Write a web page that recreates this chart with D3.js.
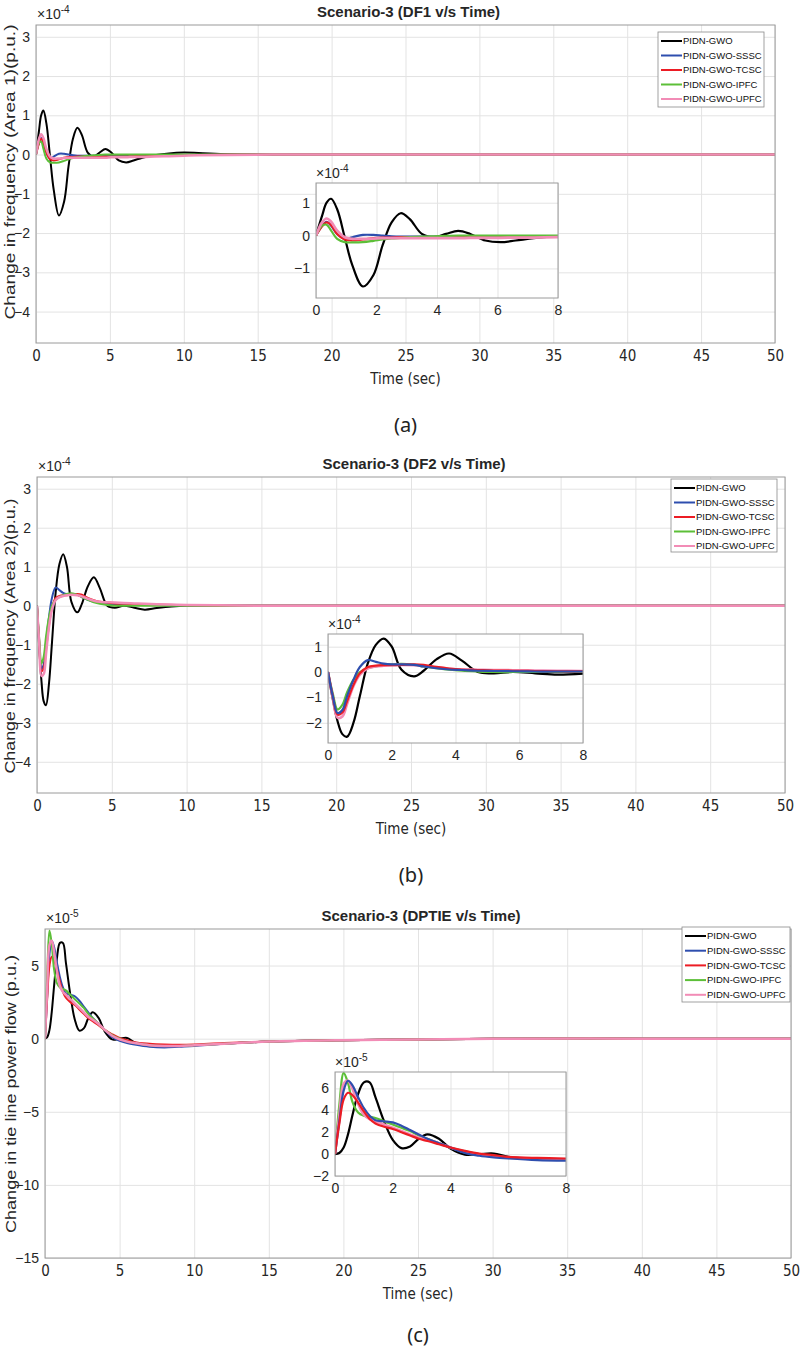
<!DOCTYPE html>
<html>
<head>
<meta charset="utf-8">
<script src="https://cdn.jsdelivr.net/npm/d3@7"></script>
<style>
  body { margin: 0; background: #fff; }
  svg { display: block; }
</style>
</head>
<body>
<div id="chart"></div>
<script>
// series names / colours (legend order)
names = ["PIDN-GWO", "PIDN-GWO-SSSC", "PIDN-GWO-TCSC", "PIDN-GWO-IPFC", "PIDN-GWO-UPFC"]
colors = ["#000000", "#2e4eae", "#ec1c24", "#5cbf38", "#f28cb6"]

xTicks = [0, 5, 10, 15, 20, 25, 30, 35, 40, 45, 50]
insetXTicks = [0, 2, 4, 6, 8]

// (a) DF1, x1e-4
tA = [0, 0.2, 0.35, 0.5, 0.7, 0.95, 1.2, 1.55, 1.9, 2.2, 2.5, 2.8, 3.1, 3.5, 3.9, 4.3, 4.7, 5.1, 5.6, 6.1, 6.6, 7.2, 8, 9, 10, 11, 13, 16, 20, 30, 40, 50]
a_gwo  = [0, 0.6, 1.0, 1.12, 0.8, -0.05, -0.9, -1.55, -1.2, -0.3, 0.4, 0.68, 0.5, 0.05, -0.05, 0.05, 0.14, 0.05, -0.15, -0.2, -0.15, -0.08, -0.02, 0.03, 0.05, 0.04, 0.01, 0, 0, 0, 0, 0]
a_sssc = [0, 0.3, 0.42, 0.3, 0.05, -0.1, -0.05, 0.02, 0.02, 0, -0.02, -0.03, -0.03, -0.03, -0.03, -0.03, -0.03, -0.03, -0.03, -0.03, -0.03, -0.03, -0.03, -0.02, -0.01, -0.01, 0, 0, 0, 0, 0, 0]
a_tcsc = [0, 0.28, 0.4, 0.32, 0.05, -0.12, -0.15, -0.12, -0.08, -0.06, -0.06, -0.05, -0.05, -0.05, -0.05, -0.05, -0.05, -0.05, -0.05, -0.05, -0.04, -0.04, -0.03, -0.02, -0.01, -0.01, 0, 0, 0, 0, 0, 0]
a_ipfc = [0, 0.3, 0.33, 0.15, -0.1, -0.2, -0.21, -0.2, -0.16, -0.12, -0.09, -0.07, -0.05, -0.03, -0.02, -0.01, 0, 0, 0, 0, 0, 0, 0, 0, 0, 0, 0, 0, 0, 0, 0, 0]
a_upfc = [0, 0.4, 0.52, 0.42, 0.15, -0.05, -0.1, -0.1, -0.09, -0.08, -0.08, -0.08, -0.08, -0.08, -0.08, -0.08, -0.08, -0.07, -0.07, -0.07, -0.06, -0.06, -0.05, -0.04, -0.03, -0.02, -0.01, 0, 0, 0, 0, 0]

// (b) DF2, x1e-4
tB = [0, 0.15, 0.3, 0.45, 0.6, 0.8, 1.0, 1.25, 1.5, 1.75, 2.0, 2.3, 2.7, 3.0, 3.4, 3.8, 4.2, 4.7, 5.2, 5.8, 6.5, 7.2, 8, 9, 10, 12, 15, 20, 30, 40, 50]
b_gwo  = [0, -1.07, -1.94, -2.45, -2.55, -2.0, -0.95, 0.35, 1.07, 1.32, 1.0, 0.1, -0.17, 0.05, 0.5, 0.73, 0.45, 0.0, -0.05, 0, -0.05, -0.1, -0.06, -0.02, 0, 0, 0, 0, 0, 0, 0]
b_sssc = [0, -0.95, -1.62, -1.5, -0.95, -0.3, 0.2, 0.47, 0.4, 0.33, 0.3, 0.3, 0.28, 0.22, 0.15, 0.1, 0.08, 0.05, 0.04, 0.03, 0.02, 0.02, 0.02, 0.01, 0.01, 0, 0, 0, 0, 0, 0]
b_tcsc = [0, -0.95, -1.68, -1.6, -1.15, -0.5, -0.05, 0.2, 0.25, 0.27, 0.27, 0.28, 0.3, 0.28, 0.2, 0.14, 0.1, 0.08, 0.06, 0.05, 0.04, 0.03, 0.03, 0.02, 0.01, 0, 0, 0, 0, 0, 0]
b_ipfc = [0, -0.85, -1.48, -1.3, -0.8, -0.3, 0, 0.15, 0.22, 0.27, 0.3, 0.32, 0.28, 0.22, 0.15, 0.09, 0.05, 0.02, 0, 0, 0, 0, 0, 0, 0, 0, 0, 0, 0, 0, 0]
b_upfc = [0, -1.0, -1.8, -1.75, -1.25, -0.55, -0.1, 0.15, 0.22, 0.25, 0.27, 0.28, 0.27, 0.24, 0.18, 0.13, 0.1, 0.09, 0.08, 0.07, 0.06, 0.05, 0.04, 0.03, 0.02, 0.01, 0, 0, 0, 0, 0]

// (c) DPTIE, x1e-5
tC = [0, 0.15, 0.3, 0.45, 0.6, 0.8, 1.0, 1.2, 1.4, 1.7, 2.0, 2.3, 2.6, 2.9, 3.2, 3.6, 4.0, 4.5, 5.0, 5.5, 6.0, 7.0, 8.0, 9.0, 10, 12, 15, 20, 25, 30, 40, 50]
c_gwo  = [0, 0.1, 0.6, 1.8, 3.5, 5.5, 6.55, 6.55, 5.2, 3.0, 1.3, 0.55, 0.7, 1.4, 1.8, 1.4, 0.5, -0.05, 0, 0.05, -0.25, -0.45, -0.5, -0.5, -0.45, -0.35, -0.2, -0.1, -0.05, 0, 0, 0]
c_sssc = [0, 3.0, 5.8, 6.7, 6.3, 5.2, 4.2, 3.5, 3.1, 3.0, 2.9, 2.6, 2.2, 1.8, 1.4, 1.0, 0.6, 0.1, -0.15, -0.3, -0.4, -0.55, -0.6, -0.55, -0.5, -0.35, -0.2, -0.1, -0.05, 0, 0, 0]
c_tcsc = [0, 2.8, 5.0, 5.6, 5.4, 4.7, 3.9, 3.2, 2.8, 2.5, 2.3, 2.0, 1.7, 1.4, 1.2, 0.9, 0.6, 0.3, 0.05, -0.1, -0.25, -0.35, -0.4, -0.42, -0.4, -0.3, -0.2, -0.1, -0.05, 0, 0, 0]
c_ipfc = [0, 4.5, 7.4, 6.5, 4.8, 3.8, 3.5, 3.4, 3.3, 3.0, 2.7, 2.4, 2.1, 1.7, 1.4, 1.0, 0.6, 0.25, 0, -0.2, -0.3, -0.45, -0.5, -0.5, -0.45, -0.35, -0.2, -0.1, -0.05, 0, 0, 0]
c_upfc = [0, 3.5, 6.4, 6.7, 6.0, 4.6, 3.6, 3.2, 3.0, 2.7, 2.4, 2.1, 1.8, 1.5, 1.3, 1.0, 0.6, 0.2, -0.05, -0.2, -0.3, -0.45, -0.5, -0.5, -0.45, -0.35, -0.2, -0.1, -0.05, 0, 0, 0]

gridColor = "#e3e3e3"
frameColor = "#9a9a9a"
textColor = "#262626"
narrow = "'Liberation Sans Narrow', 'DejaVu Sans Condensed', 'Liberation Sans', sans-serif"

var svg = d3.select("#chart").append("svg")
    .attr("width", 800).attr("height", 1349)
    .style("font-family", "'Liberation Sans', Arial, sans-serif")

function expLabel(g, x0, y0, exp, size) {
    var t = g.append("text").attr("x", x0).attr("y", y0)
        .attr("font-size", size).attr("fill", textColor)
    t.append("tspan").text("\u00d710")
    t.append("tspan").attr("dy", -6).attr("font-size", size * 0.72).text(exp)
}

function drawBox(g, x, y, xt, yt, id, narrowX) {
    var r = x.range(), d = y.range()
    g.append("rect").attr("x", r[0]).attr("y", d[1])
        .attr("width", r[1] - r[0]).attr("height", d[0] - d[1]).attr("fill", "#fff")
    // grid through the axis ticks
    var gx = g.append("g").attr("transform", `translate(0,${d[0]})`)
        .call(d3.axisBottom(x).tickValues(xt).tickSize(-(d[0] - d[1])).tickPadding(7).tickFormat(d3.format("d")))
    var gy = g.append("g").attr("transform", `translate(${r[0]},0)`)
        .call(d3.axisLeft(y).tickValues(yt).tickSize(-(r[1] - r[0])).tickPadding(6).tickFormat(d3.format("d")))
    ;[gx, gy].forEach(a => {
        a.select(".domain").remove()
        a.selectAll("line").attr("stroke", gridColor)
        a.selectAll("text").attr("fill", textColor).attr("font-size", 14)
    })
    gx.selectAll("text").attr("font-family", narrowX ? narrow : null).attr("font-size", narrowX ? 15 : 14)
    gy.selectAll("text").attr("font-family", "'Liberation Sans', Arial, sans-serif")
    svg.append("clipPath").attr("id", id).append("rect")
        .attr("x", r[0]).attr("y", d[1]).attr("width", r[1] - r[0]).attr("height", d[0] - d[1])
}

function drawLines(g, x, y, t, series, order, id, w, tmax) {
    var line = d3.line()
        .x(d => x(d[0]))
        .y(d => y(d[1]))
        .curve(d3.curveCatmullRom.alpha(0.5))
    var lg = g.append("g").attr("clip-path", `url(#${id})`)
    order.forEach(i => {
        var pts = d3.zip(t, series[i]).filter(d => d[0] <= tmax)
        lg.append("path")
            .attr("fill", "none")
            .attr("stroke", colors[i])
            .attr("stroke-width", i == 4 ? w + 0.5 : w)
            .attr("stroke-linejoin", "round")
            .attr("d", line(pts))
    })
}

function frame(g, x, y) {
    var r = x.range(), d = y.range()
    g.append("rect").attr("x", r[0]).attr("y", d[1])
        .attr("width", r[1] - r[0]).attr("height", d[0] - d[1])
        .attr("fill", "none").attr("stroke", frameColor).attr("stroke-width", 1)
}

function drawPanel(c) {
    var g = svg.append("g")
    var x = d3.scaleLinear().domain([0, 50]).range([c.left, c.right])
    var y = d3.scaleLinear().domain(c.yDom).range([c.bottom, c.top])
    drawBox(g, x, y, xTicks, c.yTicks, "clip" + c.id, true)
    drawLines(g, x, y, c.t, c.series, [0, 1, 2, 3, 4], "clip" + c.id, 2, 50)
    frame(g, x, y)

    var cx = (c.left + c.right) / 2
    g.append("text").attr("x", cx + 3).attr("y", c.top - 8)
        .attr("text-anchor", "middle").attr("font-weight", "bold")
        .attr("font-size", 15).attr("fill", textColor).text(c.title)
    expLabel(g, c.left + 1, c.top - 6, c.exp, 14)
    g.append("text").attr("x", cx).attr("y", c.bottom + 41)
        .attr("text-anchor", "middle").attr("font-family", narrow)
        .attr("font-size", 15).attr("fill", textColor).text("Time (sec)")
    g.append("text")
        .attr("transform", `translate(${c.yLabX},${c.yLabMid}) rotate(-90)`)
        .attr("text-anchor", "middle").attr("font-size", 14).attr("fill", textColor)
        .attr("textLength", c.yLabLen).attr("lengthAdjust", "spacingAndGlyphs")
        .text(c.ylabel)
    g.append("text").attr("x", cx).attr("y", c.bottom + c.tagDy)
        .attr("text-anchor", "middle").attr("font-family", "'Noto Sans', 'Open Sans', sans-serif")
        .attr("font-size", 20).attr("fill", "#222").text(c.tag)

    // inset
    var n = c.inset
    var ix = d3.scaleLinear().domain([0, 8]).range([n.left, n.right])
    var iy = d3.scaleLinear().domain(n.yDom).range([n.bottom, n.top])
    var ig = g.append("g")
    drawBox(ig, ix, iy, insetXTicks, n.yTicks, "iclip" + c.id, false)
    drawLines(ig, ix, iy, c.t, c.series, n.order, "iclip" + c.id, 2.2, 8)
    frame(ig, ix, iy)
    expLabel(ig, n.left, n.top - 5, c.exp, 14)

    // legend
    var L = c.legend
    var lg = g.append("g")
    lg.append("rect").attr("x", L.x).attr("y", L.y).attr("width", L.w).attr("height", L.h)
        .attr("fill", "#fff").attr("stroke", "#8a8a8a").attr("stroke-width", 0.8)
    names.forEach((nm, i) => {
        var yy = L.y + 9 + i * L.step
        lg.append("line").attr("x1", L.x + 3).attr("x2", L.x + 24).attr("y1", yy).attr("y2", yy)
            .attr("stroke", colors[i]).attr("stroke-width", 2)
        lg.append("text").attr("x", L.x + 25).attr("y", yy + 3.3)
            .attr("font-size", 9.5).attr("fill", "#111").text(nm)
    })
}

drawPanel({
    id: "a", t: tA, series: [a_gwo, a_sssc, a_tcsc, a_ipfc, a_upfc],
    left: 36, right: 775, top: 25, bottom: 343, yDom: [-4.8, 3.3], yTicks: [-4, -3, -2, -1, 0, 1, 2, 3],
    title: "Scenario-3 (DF1 v/s Time)", exp: "-4",
    ylabel: "Change in frequency (Area 1)(p.u.)", yLabX: 15, yLabMid: 172, yLabLen: 295, tag: "(a)", tagDy: 89,
    inset: { left: 316, right: 558, top: 183, bottom: 298, yDom: [-1.9, 1.6], yTicks: [-1, 0, 1], order: [0, 1, 2, 3, 4] },
    legend: { x: 658, y: 32, w: 106, h: 75, step: 14.5 }
})

drawPanel({
    id: "b", t: tB, series: [b_gwo, b_sssc, b_tcsc, b_ipfc, b_upfc],
    left: 37, right: 785, top: 477, bottom: 793, yDom: [-4.8, 3.3], yTicks: [-4, -3, -2, -1, 0, 1, 2, 3],
    title: "Scenario-3 (DF2 v/s Time)", exp: "-4",
    ylabel: "Change in frequency (Area 2)(p.u.)", yLabX: 15, yLabMid: 636, yLabLen: 275, tag: "(b)", tagDy: 89,
    inset: { left: 328, right: 583, top: 634, bottom: 743, yDom: [-2.8, 1.5], yTicks: [-2, -1, 0, 1], order: [0, 3, 4, 2, 1] },
    legend: { x: 671, y: 479, w: 106, h: 73, step: 14.5 }
})

drawPanel({
    id: "c", t: tC, series: [c_gwo, c_sssc, c_tcsc, c_ipfc, c_upfc],
    left: 45, right: 791, top: 929, bottom: 1258, yDom: [-15, 7.5], yTicks: [-15, -10, -5, 0, 5],
    title: "Scenario-3 (DPTIE v/s Time)", exp: "-5",
    ylabel: "Change in tie line power flow (p.u.)", yLabX: 16, yLabMid: 1094, yLabLen: 278, tag: "(c)", tagDy: 84,
    inset: { left: 335, right: 566, top: 1072, bottom: 1176, yDom: [-2, 7.5], yTicks: [-2, 0, 2, 4, 6], order: [0, 3, 4, 1, 2] },
    legend: { x: 682, y: 927, w: 108, h: 75, step: 14.7 }
})
</script>
</body>
</html>
